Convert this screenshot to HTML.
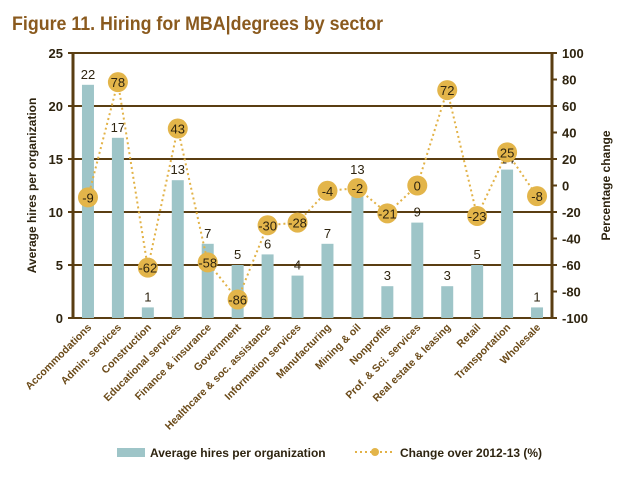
<!DOCTYPE html>
<html><head><meta charset="utf-8"><style>
body{margin:0;background:#fff;width:630px;height:474px;overflow:hidden;font-family:"Liberation Sans",sans-serif}
</style></head><body>
<svg id="c" width="630" height="474">
<text x="12" y="30" font-size="19" font-weight="bold" fill="#8a5a1e" textLength="371" lengthAdjust="spacingAndGlyphs">Figure 11. Hiring for MBA|degrees by sector</text>
</svg>
<script>
const categories=["Accommodations","Admin. services","Construction","Educational services","Finance & insurance","Government","Healthcare & soc. assistance","Information services","Manufacturing","Mining & oil","Nonprofits","Prof. & Sci. services","Real estate & leasing","Retail","Transportation","Wholesale"];
const hires=[22,17,1,13,7,5,6,4,7,13,3,9,3,5,14,1];
const change=[-9,78,-62,43,-58,-86,-30,-28,-4,-2,-21,0,72,-23,25,-8];
const leftTicks=[0,5,10,15,20,25];
const rightTicks=[-100,-80,-60,-40,-20,0,20,40,60,80,100];
const svg=document.getElementById('c');const NS='http://www.w3.org/2000/svg';
const X0=73,X1=552,Y0=318,Y1=53;
const yL=v=>Y0-(v/25)*(Y0-Y1);
const yR=v=>Y0-((v+100)/200)*(Y0-Y1);
const step=(X1-X0)/categories.length;
const xC=i=>X0+step*(i+0.5);
function el(t,a,p){const e=document.createElementNS(NS,t);for(const k in a)e.setAttribute(k,a[k]);(p||svg).appendChild(e);return e;}
const brown="#5a3e12",txt="#2e2410";
leftTicks.forEach(v=>{
 const l=el('line',{x1:X0-5,x2:X1,y1:yL(v),y2:yL(v),stroke:brown,'stroke-width':2});
 
 
 const t=el('text',{x:X0-10,y:yL(v)+5,'text-anchor':'end','font-size':13,'font-weight':'bold',fill:txt});t.textContent=v;
 
 
});
rightTicks.forEach(v=>{
 const t=el('text',{x:X1+10,y:yR(v)+5,'font-size':13,'font-weight':'bold',fill:txt});t.textContent=v;
 
 
 el('line',{x1:X1,x2:X1+5,y1:yR(v),y2:yR(v),stroke:brown,'stroke-width':2});
});
el('line',{x1:X0,x2:X0,y1:Y1,y2:Y0,stroke:brown,'stroke-width':3});
el('line',{x1:X1,x2:X1,y1:Y1,y2:Y0,stroke:brown,'stroke-width':3});
hires.forEach((v,i)=>{
 const b=el('rect',{x:xC(i)-6,y:yL(v),width:12,height:Y0-yL(v),fill:"#9ec5c8"});
 
 
 const t=el('text',{x:xC(i),y:yL(v)-6,'text-anchor':'middle','font-size':13,fill:txt});t.textContent=v;
 
 
});
el('polyline',{points:change.map((v,i)=>xC(i)+','+yR(v)).join(' '),fill:'none',stroke:'#e2b247','stroke-width':2,'stroke-dasharray':'2 3'});
change.forEach((v,i)=>{
 const c=el('circle',{cx:xC(i),cy:yR(v),r:10,fill:'#e3b54a'});
 
 
 const t=el('text',{x:xC(i),y:yR(v)+5,'text-anchor':'middle','font-size':13,fill:txt});t.textContent=v;
 
 
});
categories.forEach((c,i)=>{
 const t=el('text',{transform:`translate(${xC(i)+4},${Y0+10}) rotate(-45)`,'text-anchor':'end','font-size':10.5,'font-weight':'bold',fill:'#6b4a18'});t.textContent=c;
 
 
});
let t=el('text',{transform:`translate(36,${(Y0+Y1)/2}) rotate(-90)`,'text-anchor':'middle','font-size':12,'font-weight':'bold',fill:txt});t.textContent='Average hires per organization';


t=el('text',{transform:`translate(610,${(Y0+Y1)/2}) rotate(-90)`,'text-anchor':'middle','font-size':12,'font-weight':'bold',fill:txt});t.textContent='Percentage change';


let r=el('rect',{x:117,y:448,width:28,height:9,fill:'#9ec5c8'});


t=el('text',{x:150,y:457,'font-size':12,'font-weight':'bold',fill:txt});t.textContent='Average hires per organization';


el('line',{x1:355,x2:395,y1:452,y2:452,stroke:'#e2b247','stroke-width':2,'stroke-dasharray':'2 3'});
r=el('circle',{cx:375,cy:452,r:4,fill:'#e3b54a'});


t=el('text',{x:400,y:457,'font-size':12,'font-weight':'bold',fill:txt});t.textContent='Change over 2012-13 (%)';


</script>
</body></html>
